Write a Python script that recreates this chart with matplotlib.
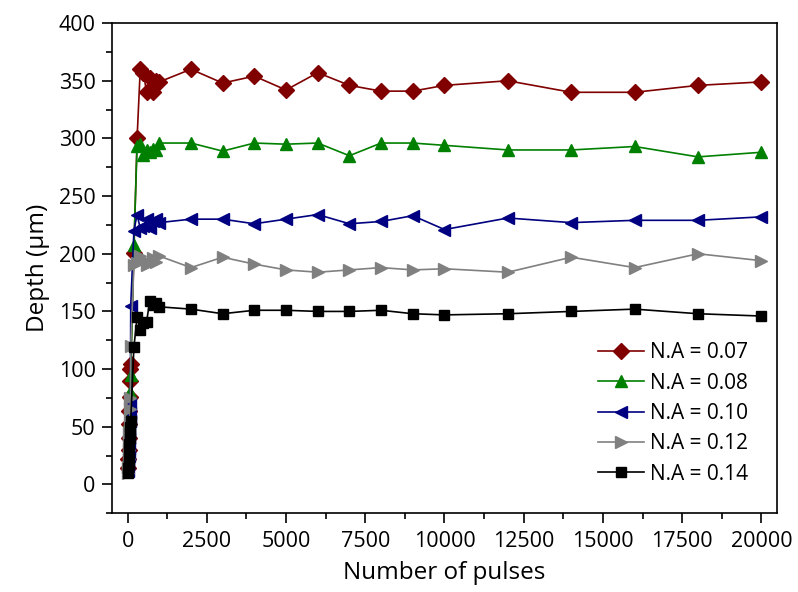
import matplotlib.pyplot as plt
from matplotlib.ticker import MultipleLocator

plt.rcParams['font.family'] = ['Open Sans', 'DejaVu Sans']

# number of pulses (same for every N.A)
pulses = [10, 20, 30, 40, 50, 60, 70, 80, 90, 100,
          200, 300, 400, 500, 600, 700, 800, 900, 1000,
          2000, 3000, 4000, 5000, 6000, 7000, 8000, 9000, 10000,
          12000, 14000, 16000, 18000, 20000]

# depth (um)
na_007 = [14, 22, 30, 40, 52, 64, 76, 90, 100, 104,
          201, 300, 360, 357, 340, 352, 340, 350, 349,
          360, 348, 354, 342, 357, 346, 341, 341, 346,
          350, 340, 340, 346, 349]
na_008 = [15, 20, 28, 35, 45, 55, 62, 70, 80, 95,
          208, 293, 295, 286, 290, 288, 291, 290, 296,
          296, 289, 296, 295, 296, 285, 296, 296, 294,
          290, 290, 293, 284, 288]
na_010 = [12, 18, 25, 32, 40, 48, 55, 62, 70, 155,
          220, 234, 222, 224, 230, 222, 228, 230, 227,
          230, 230, 226, 230, 234, 226, 228, 233, 221,
          231, 227, 229, 229, 232]
na_012 = [10, 15, 22, 30, 38, 45, 55, 65, 75, 120,
          190, 192, 198, 195, 190, 192, 196, 193, 198,
          188, 197, 191, 186, 184, 186, 188, 186, 187,
          184, 197, 188, 200, 194]
na_014 = [10, 14, 18, 22, 28, 35, 40, 45, 50, 55,
          119, 145, 134, 140, 141, 159, 156, 157, 154,
          152, 148, 151, 151, 150, 150, 151, 148, 147,
          148, 150, 152, 148, 146]

labels = ['N.A = 0.07', 'N.A = 0.08', 'N.A = 0.10', 'N.A = 0.12', 'N.A = 0.14']
series = [na_007, na_008, na_010, na_012, na_014]
colors = ['#800000', '#008000', '#000080', '#808080', '#000000']
markers = ['D', '^', '<', '>', 's']
msizes = [8, 8.5, 8.5, 8.5, 7.5]

fig = plt.figure(figsize=(7.98, 5.92), dpi=100)
ax = fig.add_axes([0.14, 0.133, 0.834, 0.828])

for y, lab, c, m, ms in zip(series, labels, colors, markers, msizes):
    ax.plot(pulses, y, color=c, marker=m, markersize=ms, linewidth=1.2,
            markeredgecolor=c, label=lab)

ax.set_xlim(-500, 20500)
ax.set_ylim(-25, 400)
ax.xaxis.set_major_locator(MultipleLocator(2500))
ax.xaxis.set_minor_locator(MultipleLocator(1250))
ax.yaxis.set_major_locator(MultipleLocator(50))
ax.yaxis.set_minor_locator(MultipleLocator(25))
ax.tick_params(which='major', direction='out', length=7.5, width=1.2, labelsize=15.5)
ax.tick_params(which='minor', direction='out', length=4.5, width=1.2)
ax.tick_params(axis='x', which='major', pad=5)
ax.tick_params(axis='y', which='major', pad=4)
for s in ax.spines.values():
    s.set_linewidth(1.2)

ax.set_xlabel('Number of pulses', fontsize=17.5, labelpad=7)
ax.set_ylabel('Depth (µm)', fontsize=17.5, labelpad=6)

ax.legend(loc='lower right', bbox_to_anchor=(0.985, 0.02), frameon=False,
          fontsize=15, handlelength=2.2, labelspacing=0.45, handletextpad=0.3)

fig.savefig('out.png', dpi=100)
